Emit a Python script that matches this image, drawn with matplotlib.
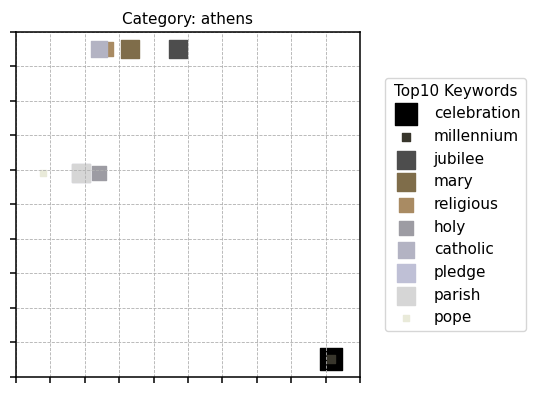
import numpy as np
import matplotlib
matplotlib.use("Agg")
import matplotlib.pyplot as plt

# ---------------- DATA ----------------

keywords = ["celebration", "millennium", "jubilee", "mary", "religious",
            "holy", "catholic", "pledge", "parish", "pope"]

x_vals = [9.16, 9.16, 4.71, 3.31, 2.62, 2.41, 2.41, 1.89, 1.89, 0.78]
y_vals = [0.52, 0.52, 9.51, 9.51, 9.51, 5.91, 9.51, 5.91, 5.91, 5.91]

sizes = [250, 36, 169, 165, 100, 88, 117, 175, 185, 25]

colors = ["#000000", "#38362c", "#4d4d4d", "#7f6d4a", "#a98b63",
          "#9d9ca3", "#b3b3c3", "#bfc0d6", "#d6d6d6", "#e9ead9"]

# ---------------- PLOT ----------------

fig = plt.figure(figsize=(5.4, 3.93), dpi=100)
ax = fig.add_axes([0.0296, 0.0407, 0.637, 0.878])

for kw, x, y, s, c in zip(keywords, x_vals, y_vals, sizes, colors):
    ax.scatter(x, y, s=s, c=c, marker="s", label=kw)

ax.set_xlim(0, 10)
ax.set_ylim(0, 10)
ax.set_xticks(np.arange(0, 11))
ax.set_yticks(np.arange(0, 11))
ax.set_xticklabels([])
ax.set_yticklabels([])
ax.tick_params(length=4, width=1.1)
for sp in ax.spines.values():
    sp.set_linewidth(1.1)
ax.grid(True, linestyle="--", color="#b0b0b0", linewidth=0.6)

ax.set_title("Category: athens", fontsize=11)

ax.legend(title="Top10 Keywords", loc="center left",
          bbox_to_anchor=(1.05, 0.5), fontsize=11, title_fontsize=11)

fig.savefig("out.png", dpi=100)
